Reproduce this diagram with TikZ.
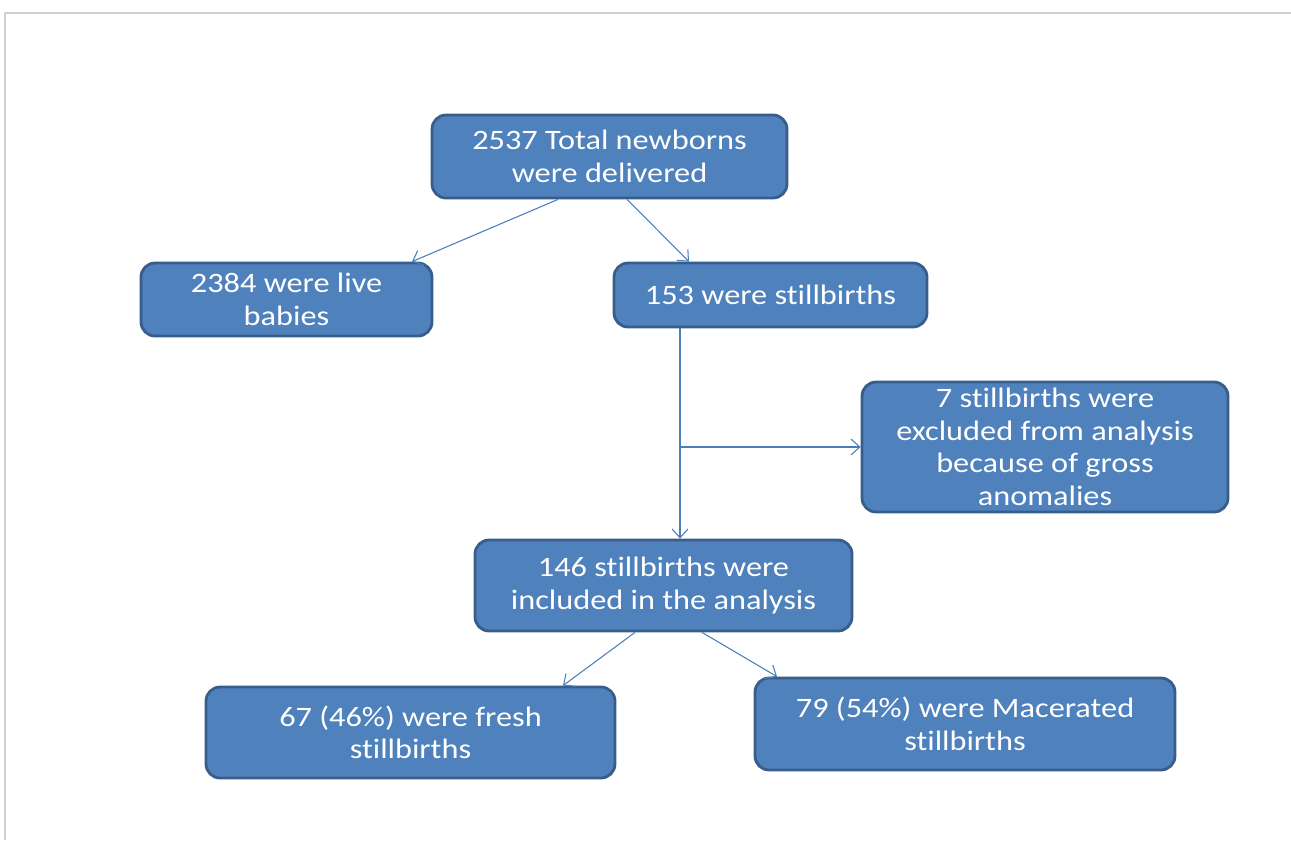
\documentclass[tikz,border=0pt]{standalone}
\usepackage{fontspec}
\setmainfont{Carlito}
\newfontfamily\boxfont{Carlito}[FakeStretch=1.15, Ligatures=NoCommon]
\usetikzlibrary{shapes,positioning,arrows.meta,calc}

\definecolor{boxfill}{HTML}{4F81BD}
\definecolor{boxline}{HTML}{385D8A}
\definecolor{arrowcol}{HTML}{4A7EBB}

\tikzset{
    stepbox/.style={draw=boxline, fill=boxfill, line width=1.6pt, rounded corners=8pt,
        text=white, align=center, inner sep=0pt, font=\boxfont\fontsize{16}{18.5}\selectfont},
    link/.style={draw=arrowcol, line width=0.6pt, -{Straight Barb[length=5pt,width=9pt]}}
}

\begin{document}
\begin{tikzpicture}[x=0.02cm, y=-0.02cm]
            \useasboundingbox (0, 0) rectangle (1291, 840);
            \draw [black!18, line width=0.8pt] (5, 840) -- (5, 13) -- (1291, 13);

            % boxes, at pixel centres
            \node[stepbox, minimum width=355*0.02cm, minimum height=83*0.02cm] (total) at (609.5, 156.5) {2537 Total newborns\\were delivered};
            \node[stepbox, minimum width=291*0.02cm, minimum height=73*0.02cm] (live) at (286.5, 299.5) {2384 were live\\babies};
            \node[stepbox, minimum width=313*0.02cm, minimum height=64*0.02cm] (still) at (770.5, 295) {153 were stillbirths};
            \node[stepbox, minimum width=366*0.02cm, minimum height=130*0.02cm] (excl) at (1045, 447) {7 stillbirths were\\excluded from analysis\\because of gross\\anomalies};
            \node[stepbox, minimum width=377*0.02cm, minimum height=91*0.02cm] (incl) at (663.5, 585.5) {146 stillbirths were\\included in the analysis};
            \node[stepbox, minimum width=409*0.02cm, minimum height=91*0.02cm] (fresh) at (410.5, 732.5) {67 (46\%) were fresh\\stillbirths};
            \node[stepbox, minimum width=420*0.02cm, minimum height=92*0.02cm] (macer) at (965, 724) {79 (54\%) were Macerated\\stillbirths};

            \coordinate (B1) at (680, 447); % branch point
            \draw[link] (total.south -| 558, 0) -- (live.north -| 412, 0);
            \draw[link] (total.south -| 627, 0) -- (still.north -| 689, 0);
            \draw[link] (still.south -| B1) -- (incl.north -| B1);
            \draw[link] (B1) -- (excl.west);
            \draw[link] (incl.south -| 635, 0) -- (fresh.north -| 563, 0);
            \draw[link] (incl.south -| 702, 0) -- (macer.north -| 777, 0);

        \end{tikzpicture}
\end{document}
